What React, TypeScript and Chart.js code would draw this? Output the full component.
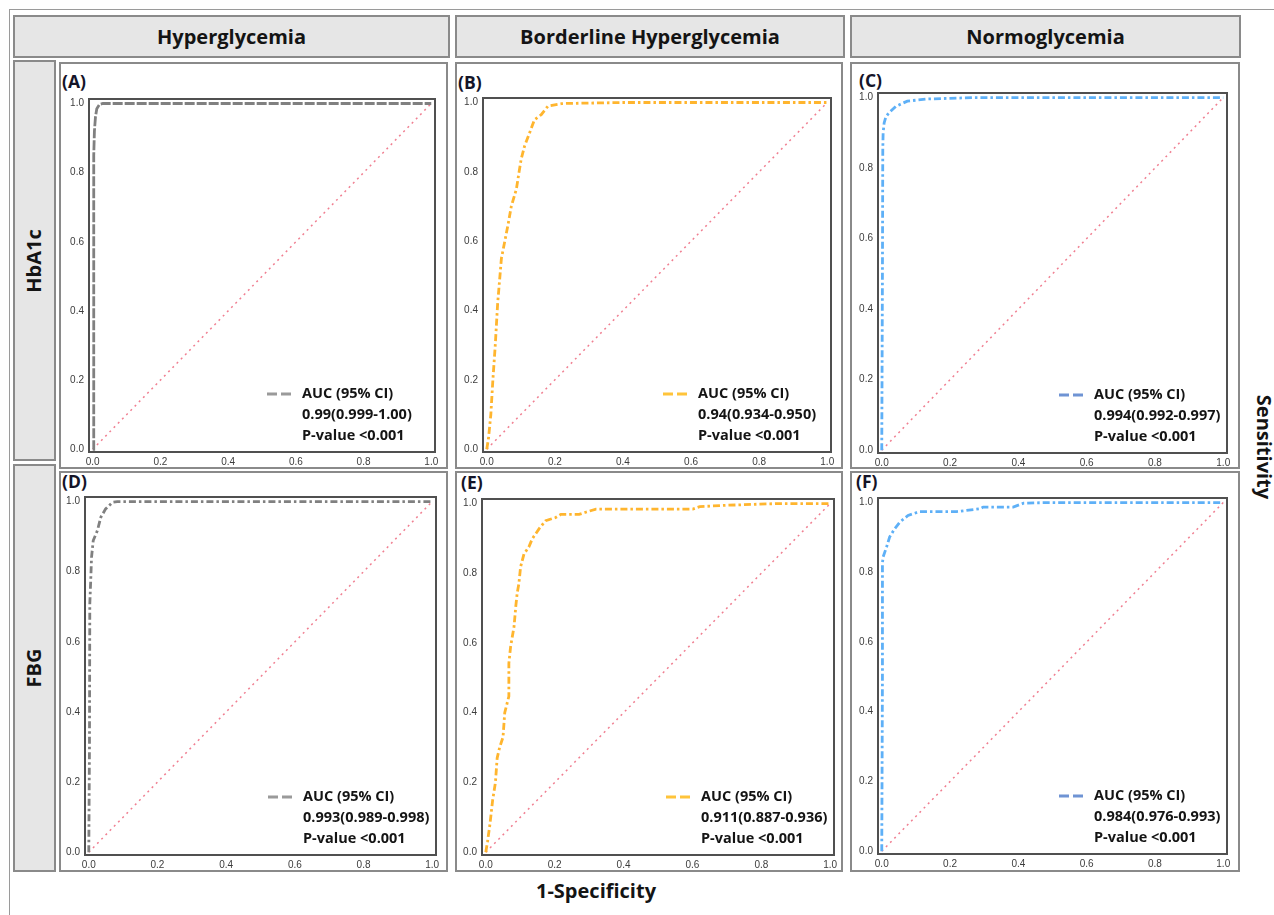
import React, { useEffect, useRef } from "react";
import { Chart, registerables } from "chart.js";

Chart.register(...registerables);

// ---------- data ----------
const TICKS = [0, 0.2, 0.4, 0.6, 0.8, 1.0];
const DIAG_X = [0, 1];
const DIAG_Y = [0, 1];

const COLUMN_TITLES = ["Hyperglycemia", "Borderline Hyperglycemia", "Normoglycemia"];
const ROW_TITLES = ["HbA1c", "FBG"];
const X_TITLE = "1-Specificity";
const Y_TITLE = "Sensitivity";
const PANEL_LETTERS = ["(A)", "(B)", "(C)", "(D)", "(E)", "(F)"];
const LEGEND_HEAD = "AUC (95% CI)";
const LEGEND_P = "P-value <0.001";
const AUC_TEXTS = [
  "0.99(0.999-1.00)",
  "0.94(0.934-0.950)",
  "0.994(0.992-0.997)",
  "0.993(0.989-0.998)",
  "0.911(0.887-0.936)",
  "0.984(0.976-0.993)",
];

// (A) HbA1c – Hyperglycemia
const hbHyperFpr = [0, 0.003, 0.003, 0.005, 0.008, 0.012, 0.02, 0.03, 1];
const hbHyperTpr = [0, 0, 0.85, 0.92, 0.96, 0.985, 0.997, 1, 1];

// (B) HbA1c – Borderline
const hbBorderFpr = [0, 0.005, 0.012, 0.018, 0.025, 0.032, 0.043, 0.053, 0.063, 0.072, 0.087, 0.095, 0.101, 0.111, 0.126, 0.14, 0.16, 0.18, 0.22, 0.4, 1];
const hbBorderTpr = [0, 0.03, 0.1, 0.2, 0.3, 0.42, 0.55, 0.6, 0.65, 0.7, 0.75, 0.8, 0.836, 0.874, 0.913, 0.95, 0.965, 0.99, 0.997, 1, 1];

// (C) HbA1c – Normoglycemia
const hbNormoFpr = [0, 0.002, 0.003, 0.004, 0.007, 0.012, 0.021, 0.041, 0.075, 0.134, 0.27, 1];
const hbNormoTpr = [0, 0.5, 0.85, 0.9, 0.928, 0.945, 0.957, 0.975, 0.99, 0.996, 1, 1];

// (D) FBG – Hyperglycemia
const fbgHyperFpr = [0, 0.002, 0.003, 0.006, 0.008, 0.013, 0.025, 0.035, 0.049, 0.069, 0.083, 1];
const fbgHyperTpr = [0, 0.3, 0.709, 0.784, 0.841, 0.889, 0.917, 0.955, 0.979, 0.998, 1, 1];

// (E) FBG – Borderline
const fbgBorderFpr = [0, 0.005, 0.012, 0.02, 0.028, 0.033, 0.04, 0.05, 0.055, 0.067, 0.067, 0.072, 0.082, 0.087, 0.091, 0.096, 0.101, 0.111, 0.125, 0.135, 0.155, 0.174, 0.203, 0.218, 0.271, 0.29, 0.32, 0.601, 0.621, 0.679, 0.699, 0.85, 1];
const fbgBorderTpr = [0, 0.03, 0.08, 0.15, 0.2, 0.27, 0.3, 0.33, 0.4, 0.447, 0.542, 0.589, 0.647, 0.704, 0.742, 0.77, 0.818, 0.856, 0.875, 0.899, 0.928, 0.951, 0.96, 0.969, 0.969, 0.975, 0.984, 0.984, 0.991, 0.994, 0.995, 1, 1];

// (F) FBG – Normoglycemia
const fbgNormoFpr = [0, 0.002, 0.002, 0.004, 0.014, 0.023, 0.038, 0.053, 0.077, 0.111, 0.219, 0.287, 0.297, 0.385, 0.415, 0.483, 1];
const fbgNormoTpr = [0, 0.5, 0.826, 0.844, 0.872, 0.901, 0.925, 0.944, 0.963, 0.974, 0.974, 0.982, 0.987, 0.987, 0.998, 1, 1];

// ---------- styles / layout ----------
const GRAY = "#808080";
const ORANGE = "#FFB52E";
const BLUE = "#5EB0F7";
const FONT = '"Open Sans", "Noto Sans", sans-serif';
const TICK_FONT = '10px "Liberation Sans", Arial, sans-serif';
const TEXT = "#141414";
const DASH_DOT = [7, 3, 2.5, 3];

type Rect = [number, number, number, number]; // left, top, right, bottom

interface PanelDef {
  fpr: number[];
  tpr: number[];
  color: string;
  dash: number[];
  legendColor: string;
  auc: string;
  letter: string;
  box: Rect;
  frame: Rect;
  letterPos: [number, number];
}

const PANELS: PanelDef[] = [
  { fpr: hbHyperFpr, tpr: hbHyperTpr, color: GRAY, dash: [10, 2], legendColor: "#9a9a9a", auc: AUC_TEXTS[0], letter: PANEL_LETTERS[0], box: [59, 62, 448, 469], frame: [89, 99, 435, 452], letterPos: [62, 82] },
  { fpr: hbBorderFpr, tpr: hbBorderTpr, color: ORANGE, dash: DASH_DOT, legendColor: "#FFC43A", auc: AUC_TEXTS[1], letter: PANEL_LETTERS[1], box: [455, 62, 843, 469], frame: [483, 98, 831, 452], letterPos: [458, 83] },
  { fpr: hbNormoFpr, tpr: hbNormoTpr, color: BLUE, dash: DASH_DOT, legendColor: "#6F94D4", auc: AUC_TEXTS[2], letter: PANEL_LETTERS[2], box: [850, 62, 1240, 469], frame: [878, 93, 1227, 453], letterPos: [859, 81] },
  { fpr: fbgHyperFpr, tpr: fbgHyperTpr, color: GRAY, dash: DASH_DOT, legendColor: "#9a9a9a", auc: AUC_TEXTS[3], letter: PANEL_LETTERS[3], box: [59, 471, 448, 872], frame: [85, 497, 436, 855], letterPos: [62, 482] },
  { fpr: fbgBorderFpr, tpr: fbgBorderTpr, color: ORANGE, dash: DASH_DOT, legendColor: "#FFC43A", auc: AUC_TEXTS[4], letter: PANEL_LETTERS[4], box: [455, 471, 843, 872], frame: [482, 499, 834, 855], letterPos: [461, 483] },
  { fpr: fbgNormoFpr, tpr: fbgNormoTpr, color: BLUE, dash: DASH_DOT, legendColor: "#6F94D4", auc: AUC_TEXTS[5], letter: PANEL_LETTERS[5], box: [850, 471, 1240, 872], frame: [878, 498, 1227, 854], letterPos: [856, 482] },
];

const HEADER_BOXES: Rect[] = [
  [13, 15, 450, 58],
  [455, 15, 845, 58],
  [850, 15, 1241, 58],
];
const ROW_BOXES: Rect[] = [
  [13, 60, 56, 461],
  [13, 464, 56, 872],
];

const Y_AXIS_W = 30;
const X_AXIS_H = 20;
const PAD_T = 6;
const PAD_R = 6;

function RocPanel({ def }: { def: PanelDef }) {
  const ref = useRef<HTMLCanvasElement | null>(null);
  const [fl, ft, fr, fb] = def.frame;
  const w = fr - fl + Y_AXIS_W + PAD_R;
  const h = fb - ft + X_AXIS_H + PAD_T;

  useEffect(() => {
    if (!ref.current) return;
    const framePlugin = {
      id: "frame" + def.letter,
      afterDatasetsDraw(chart: any) {
        const { ctx, chartArea } = chart;
        ctx.save();
        ctx.strokeStyle = "#505050";
        ctx.lineWidth = 2;
        ctx.strokeRect(chartArea.left, chartArea.top, chartArea.right - chartArea.left, chartArea.bottom - chartArea.top);
        ctx.restore();
      },
    };
    const tickPlugin = {
      id: "ticks" + def.letter,
      afterDraw(chart: any) {
        const { ctx, chartArea, scales } = chart;
        ctx.save();
        ctx.fillStyle = "#3c3c3c";
        ctx.font = TICK_FONT;
        ctx.textAlign = "right";
        ctx.textBaseline = "middle";
        TICKS.forEach((v) => ctx.fillText(v.toFixed(1), chartArea.left - 5, scales.y.getPixelForValue(v)));
        ctx.textAlign = "center";
        ctx.textBaseline = "top";
        TICKS.forEach((v) => ctx.fillText(v.toFixed(1), scales.x.getPixelForValue(v), chartArea.bottom + 5));
        ctx.restore();
      },
    };
    const legendPlugin = {
      id: "legend" + def.letter,
      afterDraw(chart: any) {
        const { ctx, chartArea } = chart;
        const { right, bottom } = chartArea;
        const y0 = bottom - 58;
        ctx.save();
        ctx.strokeStyle = def.legendColor;
        ctx.lineWidth = 3;
        ctx.setLineDash([10, 4]);
        ctx.beginPath();
        ctx.moveTo(right - 168, y0);
        ctx.lineTo(right - 140, y0);
        ctx.stroke();
        ctx.setLineDash([]);
        ctx.fillStyle = TEXT;
        ctx.font = `bold 14.5px ${FONT}`;
        ctx.textAlign = "left";
        ctx.textBaseline = "middle";
        [LEGEND_HEAD, def.auc, LEGEND_P].forEach((t, i) => ctx.fillText(t, right - 133, y0 + 21 * i));
        ctx.restore();
      },
    };
    const chart = new Chart(ref.current, {
      type: "line",
      data: {
        datasets: [
          {
            data: def.fpr.map((x, i) => ({ x, y: def.tpr[i] })),
            borderColor: def.color,
            borderWidth: 2.8,
            borderDash: def.dash,
            pointRadius: 0,
            tension: 0,
            fill: false,
            order: 0,
          },
          {
            data: DIAG_X.map((x, i) => ({ x, y: DIAG_Y[i] })),
            borderColor: "#F07F91",
            borderWidth: 1.5,
            borderDash: [2, 4],
            pointRadius: 0,
            tension: 0,
            fill: false,
            order: 1,
          },
        ],
      },
      options: {
        animation: false,
        responsive: false,
        devicePixelRatio: 1,
        layout: { padding: { top: PAD_T, right: PAD_R, left: 0, bottom: 0 } },
        plugins: { legend: { display: false }, tooltip: { enabled: false } },
        scales: {
          x: {
            type: "linear",
            min: -0.011,
            max: 1.011,
            grid: { display: false },
            border: { display: false },
            afterBuildTicks: (s: any) => {
              s.ticks = TICKS.map((v) => ({ value: v }));
            },
            afterFit: (s: any) => {
              s.height = X_AXIS_H;
            },
            ticks: { display: false },
          },
          y: {
            type: "linear",
            min: -0.008,
            max: 1.013,
            grid: { display: false },
            border: { display: false },
            afterBuildTicks: (s: any) => {
              s.ticks = TICKS.map((v) => ({ value: v }));
            },
            afterFit: (s: any) => {
              s.width = Y_AXIS_W;
            },
            ticks: { display: false },
          },
        },
      } as any,
      plugins: [framePlugin, tickPlugin, legendPlugin],
    });
    return () => chart.destroy();
  }, [def]);

  return (
    <canvas
      ref={ref}
      width={w}
      height={h}
      style={{ position: "absolute", left: fl - Y_AXIS_W, top: ft - PAD_T, width: w, height: h }}
    />
  );
}

function boxStyle(r: Rect, fill: string): React.CSSProperties {
  return {
    position: "absolute",
    left: r[0],
    top: r[1],
    width: r[2] - r[0],
    height: r[3] - r[1],
    boxSizing: "border-box",
    border: "2px solid #8a8a8a",
    background: fill,
  };
}

export default function App() {
  return (
    <div style={{ position: "absolute", left: 0, top: 0, width: 1274, height: 915, background: "#fff", overflow: "hidden", fontFamily: FONT, color: TEXT }}>
      {/* outer frame */}
      <div style={{ position: "absolute", left: 9, top: 9, width: 1300, height: 950, border: "1px solid #9a9a9a", boxSizing: "border-box" }} />
      {HEADER_BOXES.map((r, i) => (
        <div key={"h" + i} style={{ ...boxStyle(r, "#e6e6e6"), display: "flex", alignItems: "center", justifyContent: "center", fontWeight: 700, fontSize: 20 }}>
          {COLUMN_TITLES[i]}
        </div>
      ))}
      {ROW_BOXES.map((r, i) => (
        <div key={"r" + i} style={boxStyle(r, "#e6e6e6")}>
          <div style={{ position: "absolute", left: "45%", top: "50%", transform: "translate(-50%, -50%) rotate(-90deg)", whiteSpace: "nowrap", fontWeight: 700, fontSize: 20 }}>
            {ROW_TITLES[i]}
          </div>
        </div>
      ))}
      {PANELS.map((p, i) => (
        <div key={"p" + i} style={boxStyle(p.box, "#fff")} />
      ))}
      {PANELS.map((p, i) => (
        <div key={"l" + i} style={{ position: "absolute", left: p.letterPos[0], top: p.letterPos[1], transform: "translateY(-50%)", fontWeight: 700, fontSize: 17.5, lineHeight: 1, color: "#141428" }}>
          {p.letter}
        </div>
      ))}
      {PANELS.map((p, i) => (
        <RocPanel key={"c" + i} def={p} />
      ))}
      <div style={{ position: "absolute", left: 596, top: 890, transform: "translate(-50%, -50%)", fontWeight: 700, fontSize: 20, whiteSpace: "nowrap" }}>
        {X_TITLE}
      </div>
      <div style={{ position: "absolute", left: 1264, top: 447, transform: "translate(-50%, -50%) rotate(90deg)", fontWeight: 700, fontSize: 20, whiteSpace: "nowrap" }}>
        {Y_TITLE}
      </div>
    </div>
  );
}
